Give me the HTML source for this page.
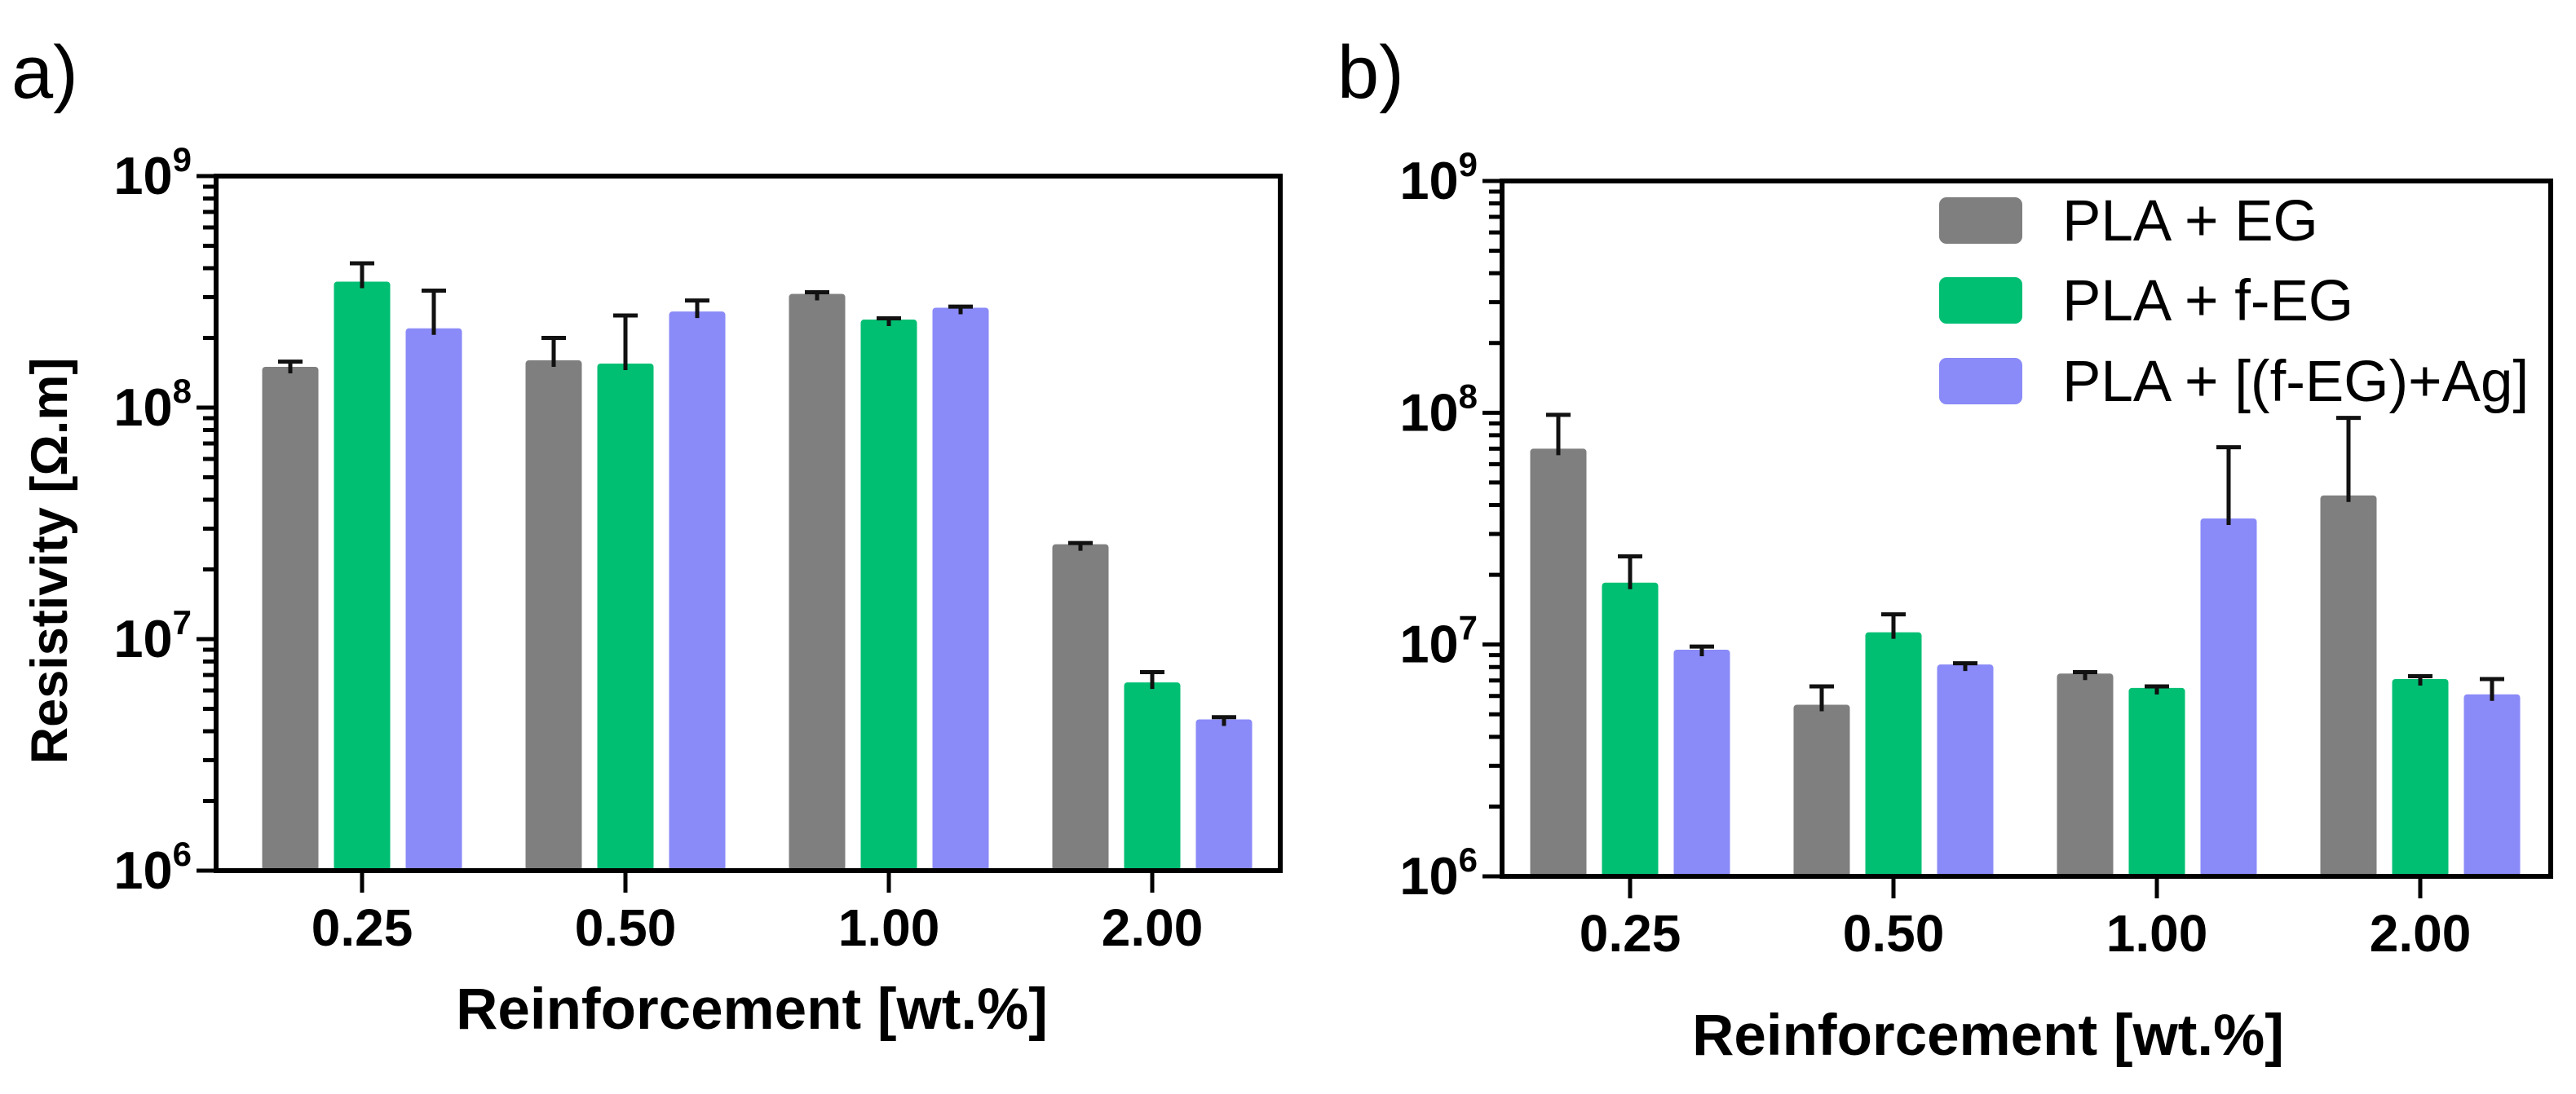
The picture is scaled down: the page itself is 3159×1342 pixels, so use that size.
<!DOCTYPE html>
<html><head><meta charset="utf-8"><style>
html,body{margin:0;padding:0;background:#fff;}
svg{display:block;font-family:"Liberation Sans",Arial,sans-serif;}
</style></head><body>
<svg id="fig" width="3159" height="1342" viewBox="0 0 3159 1342" xmlns="http://www.w3.org/2000/svg"></svg>
<script>
const categories = ["0.25","0.50","1.00","2.00"];
const seriesNames = ["PLA + EG","PLA + f-EG","PLA + [(f-EG)+Ag]"];
const colors = ["#7f7f7f","#00bf73","#8a8af8"];
const aEG = [1.5e8,1.6e8,3.1e8,2.57e7];
const aEGerr = [1.58e8,2.0e8,3.15e8,2.6e7];
const afEG = [3.5e8,1.55e8,2.4e8,6.5e6];
const afEGerr = [4.2e8,2.5e8,2.43e8,7.2e6];
const aAg = [2.2e8,2.6e8,2.7e8,4.5e6];
const aAgerr = [3.2e8,2.9e8,2.73e8,4.6e6];
const bEG = [7.0e7,5.5e6,7.5e6,4.4e7];
const bEGerr = [9.8e7,6.6e6,7.6e6,9.5e7];
const bfEG = [1.85e7,1.13e7,6.5e6,7.1e6];
const bfEGerr = [2.4e7,1.35e7,6.6e6,7.3e6];
const bAg = [9.5e6,8.2e6,3.5e7,6.1e6];
const bAgerr = [9.8e6,8.3e6,7.1e7,7.1e6];
const yTickExps = [6,7,8,9];

const NS="http://www.w3.org/2000/svg";
const svg=document.getElementById('fig');
function mk(tag,attrs,parent){const e=document.createElementNS(NS,tag);for(const k in attrs)e.setAttribute(k,attrs[k]);(parent||svg).appendChild(e);return e;}

function panel(id,x0,x1,y0,y1,firstTick,vals,errs,letter,letterX,titleY,titleX,showYTitle){
  const g=mk('g',{});
  
  
  const yScale=v=>y1-(Math.log10(v)-6)/3*(y1-y0);
  const step=323;
  const xCat=i=>firstTick+i*step;
  for(let s=0;s<3;s++){
    for(let i=0;i<categories.length;i++){
      const cx=xCat(i)+(s-1)*88;
      const yt=yScale(vals[s][i]);
      const r=mk('rect',{x:cx-34.5,y:yt,width:69,height:y1-yt,fill:colors[s],rx:4},g);
      
      
      const ye=yScale(errs[s][i]);
      const eb=mk('path',{d:`M${cx},${yt+8}V${ye}M${cx-15},${ye}H${cx+15}`,stroke:'#111',"stroke-width":5,fill:'none'},g);
      
      
    }
  }
  const fr=mk('rect',{x:x0,y:y0,width:x1-x0,height:y1-y0,fill:'none',stroke:'#000',"stroke-width":6},g);
  
  
  let d='';
  for(let e=6;e<9;e++){for(let m=2;m<10;m++){const y=yScale(m*Math.pow(10,e));d+=`M${x0-16},${y}H${x0}`;}}
  yTickExps.forEach(e=>{const y=yScale(Math.pow(10,e));d+=`M${x0-24},${y}H${x0}`;});
  categories.forEach((c,i)=>{d+=`M${xCat(i)},${y1}V${y1+27}`;});
  const tk=mk('path',{d:d,stroke:'#000',"stroke-width":5,fill:'none'},g);
  
  
  yTickExps.forEach(e=>{
    const t=mk('text',{x:x0-30,y:yScale(Math.pow(10,e))+22,"text-anchor":'end',"font-size":65,"font-weight":'bold'},g);
    
    
    t.appendChild(document.createTextNode('10'));
    const sp=document.createElementNS(NS,'tspan');sp.setAttribute('font-size','42');sp.setAttribute('dy','-28');sp.textContent=String(e);t.appendChild(sp);
  });
  categories.forEach((c,i)=>{
    const t=mk('text',{x:xCat(i),y:y1+92,"text-anchor":'middle',"font-size":64,"font-weight":'bold'},g);
    
    
    t.textContent=c;
  });
  const xt=mk('text',{x:titleX,y:titleY,"text-anchor":'middle',"font-size":71,"font-weight":'bold'},g);
  
  
  xt.textContent='Reinforcement [wt.%]';
  if(showYTitle){
    const yt=mk('text',{x:0,y:0,transform:'translate(82,688) rotate(-90)',"text-anchor":'middle',"font-size":63,"font-weight":'bold'},g);
    
    
    yt.textContent='Resistivity [Ω.m]';
  }
  const pl=mk('text',{x:letterX,y:120,"font-size":92},g);
  
  
  pl.textContent=letter;
  return g;
}
panel('a',265,1570,216,1068,444,[aEG,afEG,aAg],[aEGerr,afEGerr,aAgerr],'a)',14,1262,922,true);
panel('b',1842,3128,222,1075,1999,[bEG,bfEG,bAg],[bEGerr,bfEGerr,bAgerr],'b)',1640,1294,2438,false);

const lg=mk('g',{});


const legendRows=[270,368,467];
seriesNames.forEach((n,i)=>{
  const row=mk('g',{},lg);
  
  
  const sw=mk('rect',{x:2378,y:legendRows[i]-28,width:102,height:57,rx:9,fill:colors[i]},row);
  
  
  const t=mk('text',{x:2529,y:legendRows[i]+25,"font-size":71},row);
  
  
  t.textContent=n;
});
</script>
</body></html>
